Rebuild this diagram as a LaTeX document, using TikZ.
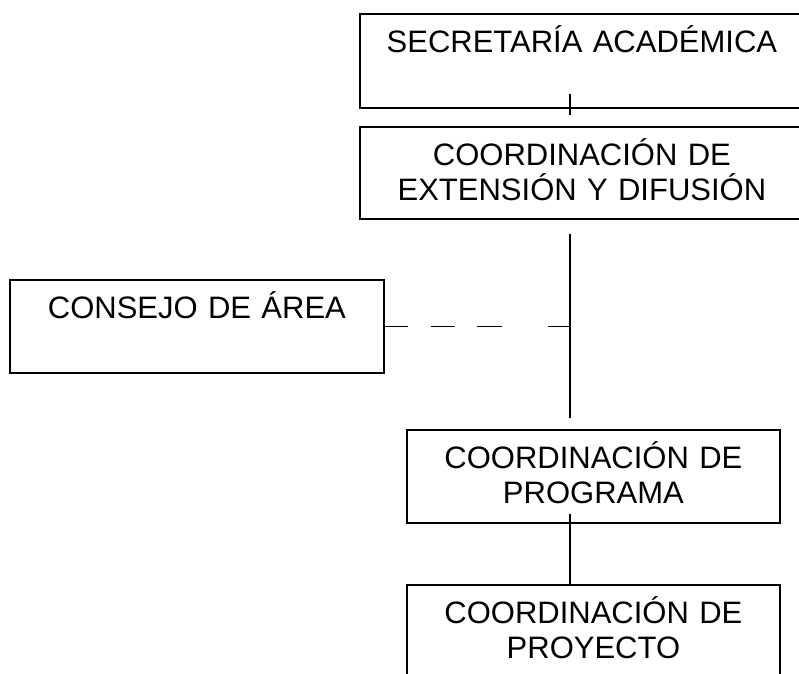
\documentclass[tikz,border=0pt]{standalone}
\usepackage{fontspec}
\setmainfont{Liberation Sans}
\usetikzlibrary{positioning, calc}

\begin{document}
\begin{tikzpicture}[
        x=1pt, y=-1pt,
        line width=1.8pt,
        unit/.style={draw, rectangle, anchor=north west, inner xsep=0pt, inner ysep=0pt,
            align=center, text height=39pt, font=\fontsize{31}{34.5}\selectfont},
    ]
    \useasboundingbox (0,0) rectangle (799,673);

        % Draw the units
        \node[unit, text width=444pt, text depth=55pt] (sec) at (359,13) {SECRETARÍA ACADÉMICA};
        \node[unit, text width=444pt, text depth=53pt] (ext) at (359,126) {COORDINACIÓN DE\\EXTENSIÓN Y DIFUSIÓN};
        \node[unit, text width=374pt, text depth=54pt] (consejo) at (9,279) {CONSEJO DE ÁREA};
        \node[unit, text width=373pt, text depth=54pt] (prog) at (406,429) {COORDINACIÓN DE\\PROGRAMA};
        \node[unit, text width=373pt, text depth=54pt] (proy) at (406,584) {COORDINACIÓN DE\\PROYECTO};

        % Vertical line of the chart
        \coordinate (axis) at (570,0);
        \coordinate (tick) at (570,115);

        % Connect the units
        \draw (sec.south -| axis) ++(0,-15) -- (tick);
        \draw ([yshift=-14pt]ext.south -| axis) -- ([yshift=11pt]prog.north -| axis);
        \draw[dash pattern=on 23pt off 23pt on 24pt off 22pt on 25pt off 46pt on 24pt]
            (consejo.east) -- (consejo.east -| axis);
        \draw ([yshift=10pt]prog.south -| axis) -- (proy.north -| axis);
    \end{tikzpicture}
\end{document}
